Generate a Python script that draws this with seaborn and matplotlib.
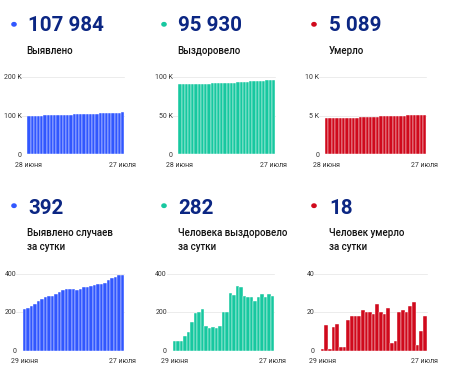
import numpy as np
import pandas as pd
import seaborn as sns
import matplotlib.pyplot as plt

# cumulative totals, 28 June - 27 July
total_cases = [98916, 99134, 99356, 99586, 99828, 100086, 100352, 100630, 100913, 101198,
               101490, 101794, 102109, 102426, 102744, 103061, 103377, 103697, 104027, 104359,
               104694, 105034, 105379, 105727, 106079, 106444, 106822, 107202, 107592, 107984]
total_recovered = [90070, 90117, 90164, 90211, 90287, 90385, 90532, 90725, 90927, 91144,
                   91272, 91391, 91515, 91634, 91762, 91960, 92158, 92455, 92743, 93079,
                   93410, 93693, 93972, 94251, 94508, 94787, 95078, 95357, 95648, 95930]
total_deaths = [4660, 4661, 4674, 4675, 4687, 4701, 4703, 4705, 4721, 4739,
                4757, 4775, 4796, 4816, 4836, 4855, 4879, 4899, 4918, 4940,
                4944, 4949, 4969, 4990, 5010, 5033, 5058, 5061, 5071, 5089]

# daily numbers, 29 June - 27 July
daily_cases = [218, 222, 230, 242, 258, 266, 278, 283, 285, 292, 304, 315, 317, 318, 317,
               316, 320, 330, 332, 335, 340, 345, 348, 352, 365, 378, 380, 390, 392]
daily_recovered = [47, 47, 47, 76, 98, 147, 193, 202, 217, 128, 119, 124, 119, 128, 198,
                   198, 297, 288, 336, 331, 283, 279, 279, 257, 279, 291, 279, 291, 282]
daily_deaths = [1, 13, 1, 12, 14, 2, 2, 16, 18, 18, 18, 21, 20, 20, 19,
                24, 20, 19, 22, 4, 5, 20, 21, 20, 23, 25, 3, 10, 18]

big_numbers = ["107 984", "95 930", "5 089", "392", "282", "18"]
titles = [["Выявлено"], ["Выздоровело"], ["Умерло"],
          ["Выявлено случаев", "за сутки"], ["Человека выздоровело", "за сутки"],
          ["Человек умерло", "за сутки"]]
date_labels = [["28 июня", "27 июля"], ["29 июня", "27 июля"]]
yticks = [[0, 100000, 200000], [0, 50000, 100000], [0, 5000, 10000],
          [0, 200, 400], [0, 200, 400], [0, 20, 40]]
yticklabels = [["0", "100 K", "200 K"], ["0", "50 K", "100 K"], ["0", "5 K", "10 K"],
               ["0", "200", "400"], ["0", "200", "400"], ["0", "20", "40"]]

blue, green, red = "#3157ff", "#17c8a0", "#d0091c"
navy = "#0b2683"
colors = [blue, green, red, blue, green, red]
series = [total_cases, total_recovered, total_deaths, daily_cases, daily_recovered, daily_deaths]

sns.set_style("white")
plt.rcParams["font.family"] = ["Roboto", "DejaVu Sans"]

W, H = 456, 379
fig = plt.figure(figsize=(W / 100, H / 100), dpi=100)
fig.patch.set_facecolor("white")

# panel layout in pixels: axes left/right, top line/zero line, text column
ax_x = [(27.3, 124.4), (178.3, 275.0), (325.0, 426.5),
        (22.6, 124.4), (172.7, 274.4), (320.6, 426.7)]
ax_y = [(76.7, 154.3)] * 3 + [(273.5, 350.5)] * 3
dot_x = [14, 164, 314] * 2
num_x = [28.3, 178.3, 329.3, 28.3, 178.3, 329.3]
lab_x = [26.7, 177.7, 328.3, 26.7, 177.7, 329.0]
num_base = [30.8] * 3 + [213.5] * 3
dot_y = [24.3] * 3 + [205.7] * 3
lab_base = [54.2] * 3 + [235.5] * 3

for i in range(6):
    x0, x1 = ax_x[i]
    ytop, yzero = ax_y[i]
    ax = fig.add_axes([x0 / W, 1 - yzero / H, (x1 - x0) / W, (yzero - ytop) / H])
    vals = series[i]
    df = pd.DataFrame({"day": range(len(vals)), "value": vals})
    sns.barplot(data=df, x="day", y="value", color=colors[i], saturation=1,
                width=1, edgecolor="white", linewidth=0.3, ax=ax, zorder=2)
    ax.set_xlim(-0.5, len(vals) - 0.5)
    ax.set_ylim(0, yticks[i][-1])
    for yv in yticks[i][1:]:
        ax.plot([-0.06, 1], [yv, yv], transform=ax.get_yaxis_transform(),
                clip_on=False, color="#ececec", lw=0.7, zorder=0)
    ax.set_yticks(yticks[i])
    ax.set_yticklabels(yticklabels[i])
    ax.set_xticks([0, len(vals) - 1])
    ax.set_xticklabels(date_labels[i // 3])
    ax.tick_params(axis="both", length=0, labelsize=5, colors="#333333")
    ax.tick_params(axis="y", pad=4.2)
    ax.tick_params(axis="x", pad=5.5)
    ax.set_xlabel("")
    ax.set_ylabel("")
    sns.despine(ax=ax, left=True, bottom=True)
    ax.set_facecolor("none")

    fig.text(num_x[i] / W, 1 - num_base[i] / H, big_numbers[i], fontsize=14.8,
             fontweight="bold", color=navy, va="baseline", ha="left")
    for k, line in enumerate(titles[i]):
        fig.text(lab_x[i] / W, 1 - (lab_base[i] + 14 * k) / H, line, fontsize=7,
                 fontweight="medium", color="#111111", va="baseline", ha="left")
    fig.patches.append(plt.Circle((dot_x[i] / W, 1 - dot_y[i] / H), 2.1 / W,
                                  transform=fig.transFigure, color=colors[i],
                                  figure=fig))

fig.savefig("out.png", dpi=100, facecolor="white")
